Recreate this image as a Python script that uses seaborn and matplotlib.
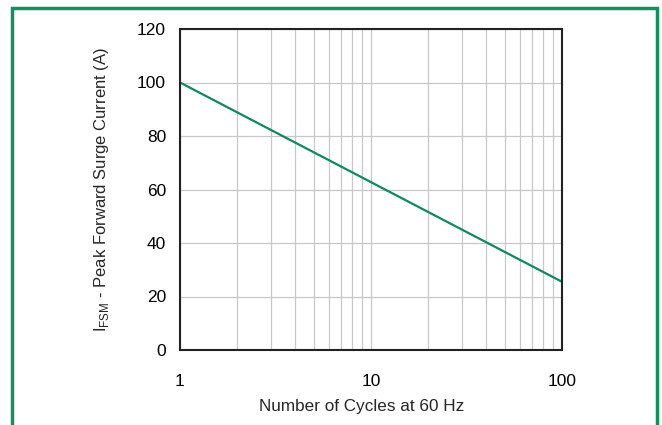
import matplotlib
matplotlib.use("Agg")
import matplotlib.pyplot as plt
import seaborn as sns
import pandas as pd
from matplotlib.patches import Rectangle
from matplotlib.ticker import LogLocator, FixedLocator, NullFormatter

# values
cycles = [1, 100]
surge_current = [100, 25.5]
x_ticks = [1, 10, 100]
y_ticks = [0, 20, 40, 60, 80, 100, 120]

df = pd.DataFrame({"cycles": cycles, "current": surge_current})

sns.set_style("white")
plt.rcParams["font.family"] = ["Liberation Sans", "DejaVu Sans"]

fig = plt.figure(figsize=(6.62, 4.25), dpi=100)
ax = fig.add_axes([180 / 662, 75 / 425, 382 / 662, 321 / 425])

sns.lineplot(data=df, x="cycles", y="current", ax=ax, color="#0f8a5c", linewidth=1.6)

ax.set_xscale("log")
ax.set_xlim(1, 100)
ax.set_ylim(0, 120)
ax.xaxis.set_major_locator(FixedLocator(x_ticks))
ax.set_xticklabels([str(t) for t in x_ticks])
ax.xaxis.set_minor_locator(LogLocator(base=10, subs=range(2, 10)))
ax.xaxis.set_minor_formatter(NullFormatter())
ax.set_yticks(y_ticks)

ax.grid(True, which="major", color="#c8c8c8", linewidth=0.9)
ax.grid(True, which="minor", axis="x", color="#c8c8c8", linewidth=0.9)
ax.tick_params(axis="both", which="major", direction="out", length=5, width=0.8,
               color="#a0a0a0", labelsize=12.5, labelcolor="black")
ax.tick_params(axis="x", which="major", pad=12)
ax.tick_params(axis="y", which="major", pad=5)
ax.tick_params(axis="x", which="minor", length=0)
for s in ax.spines.values():
    s.set_color("#222222")
    s.set_linewidth(1.5)

ax.set_xlabel("Number of Cycles at 60 Hz", fontsize=12.3)
ax.xaxis.set_label_coords(0.475, -0.152)
ax.set_ylabel(r"I$_{\mathregular{FSM}}$ - Peak Forward Surge Current (A)", fontsize=12)
ax.yaxis.set_label_coords(-0.18, 0.5)

# green outer frame
fig.patches.append(Rectangle((12 / 662, -0.05), 645 / 662, 1.05 - 8 / 425,
                             transform=fig.transFigure, fill=False,
                             edgecolor="#139060", linewidth=2.5, zorder=5))

fig.savefig("out.png", dpi=100)
